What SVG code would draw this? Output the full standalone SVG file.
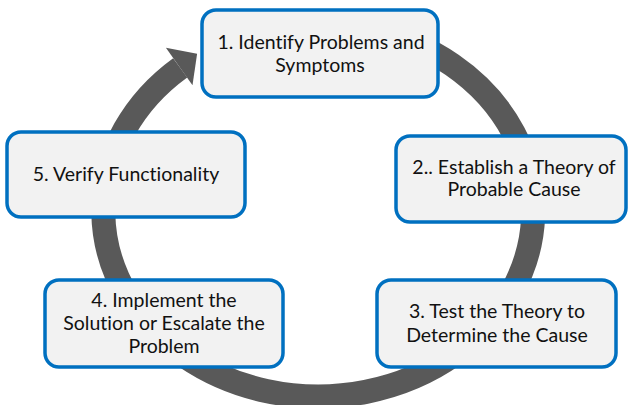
<svg xmlns="http://www.w3.org/2000/svg" width="630" height="405" viewBox="0 0 630 405">
<style>
.box{fill:#F2F2F2;stroke:#0070C0;stroke-width:3.5}
.t{font-family:Lato,"Liberation Sans",sans-serif;font-size:19.5px;fill:#111;text-anchor:middle;font-variant-ligatures:none}
.ring{fill:none;stroke:#595959;stroke-width:24}
.head{fill:#595959}
</style>
<rect width="630" height="405" fill="#fff"/>
<g id="connectors">
<path class="ring" d="M371.6,30.3 A215,186 0 1 1 180.2,67.9"/>
<polygon class="head" points="165.9,47.8 197.1,53.7 192.5,85.2"/>
</g>
<g id="node1">
<rect class="box" x="202" y="10" width="236" height="87" rx="14"/>
<text class="t" x="321" y="49">1. Identify Problems and</text>
<text class="t" x="320" y="72">Symptoms</text>
</g>
<g id="node2">
<rect class="box" x="396" y="136" width="230" height="86" rx="14"/>
<text class="t" x="514" y="174">2.. Establish a Theory of</text>
<text class="t" x="514" y="196">Probable Cause</text>
</g>
<g id="node3">
<rect class="box" x="377" y="280" width="239" height="87" rx="14"/>
<text class="t" x="497" y="318">3. Test the Theory to</text>
<text class="t" x="497" y="342">Determine the Cause</text>
</g>
<g id="node4">
<rect class="box" x="45" y="280" width="238" height="87" rx="14"/>
<text class="t" x="164" y="307">4. Implement the</text>
<text class="t" x="164" y="330">Solution or Escalate the</text>
<text class="t" x="164" y="353">Problem</text>
</g>
<g id="node5">
<rect class="box" x="7" y="132" width="238" height="85" rx="14"/>
<text class="t" x="126" y="181">5. Verify Functionality</text>
</g>
</svg>
